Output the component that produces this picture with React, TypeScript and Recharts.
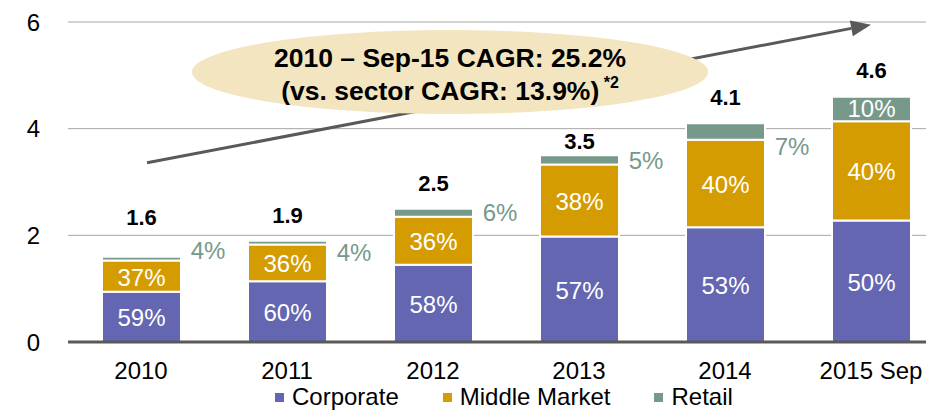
import { BarChart, Bar, XAxis, YAxis, CartesianGrid, LabelList, ReferenceLine } from "recharts";

const categories = ["2010", "2011", "2012", "2013", "2014", "2015 Sep"];
const corporate = [0.94, 1.14, 1.45, 1.98, 2.15, 2.28];
const middleMarket = [0.59, 0.69, 0.9, 1.35, 1.64, 1.86];
const retail = [0.07, 0.07, 0.15, 0.17, 0.31, 0.46];
const totals = ["1.6", "1.9", "2.5", "3.5", "4.1", "4.6"];
const corporatePct = ["59%", "60%", "58%", "57%", "53%", "50%"];
const middlePct = ["37%", "36%", "36%", "38%", "40%", "40%"];
const retailPct = ["4%", "4%", "6%", "5%", "7%", "10%"];
const yTicks = [0, 2, 4, 6];

// label nudges, in pixels
const totalGap = [40, 26, 26, 15, 27, 27];
const retailDy = [-8, 10, 0, 1, 15, 0];

const COLORS = { corporate: "#6466B2", middle: "#D49C00", retail: "#76998A" };
const FONT = "'Liberation Sans', Arial, sans-serif";

const data = categories.map((name, i) => ({
  name,
  corporate: corporate[i],
  middle: middleMarket[i],
  retail: retail[i],
}));

const box = (p: any) => {
  const vb = p.viewBox && p.viewBox.width !== undefined ? p.viewBox : p;
  return { x: Number(vb.x), y: Number(vb.y), w: Number(vb.width), h: Number(vb.height) };
};

const insideLabel = (labels: string[]) => (p: any) => {
  const { x, y, w, h } = box(p);
  return (
    <text x={x + w / 2} y={y + h / 2 + 1} fill="#fff" fontSize={24} textAnchor="middle" dominantBaseline="central">
      {labels[p.index]}
    </text>
  );
};

const retailLabel = (p: any) => {
  const { x, y, w, h } = box(p);
  const i = p.index;
  const last = i === categories.length - 1;
  return (
    <g>
      {last ? (
        <text x={x + w / 2} y={y + h / 2} fill="#fff" fontSize={24} textAnchor="middle" dominantBaseline="central">
          {retailPct[i]}
        </text>
      ) : (
        <text x={x + w + 27} y={y + h / 2 + retailDy[i]} fill={COLORS.retail} fontSize={24} textAnchor="middle" dominantBaseline="central">
          {retailPct[i]}
        </text>
      )}
      <text x={x + w / 2} y={y - totalGap[i] + 1} fill="#000" fontSize={22} fontWeight="bold" textAnchor="middle" dominantBaseline="central">
        {totals[i]}
      </text>
    </g>
  );
};

const Arrow = (p: any) => {
  const { x1, y1, x2, y2 } = p;
  const ang = Math.atan2(y2 - y1, x2 - x1);
  const len = 20;
  const half = 8;
  const bx = x2 - len * Math.cos(ang);
  const by = y2 - len * Math.sin(ang);
  const px = -Math.sin(ang) * half;
  const py = Math.cos(ang) * half;
  return (
    <g>
      <line x1={x1 + 6} y1={y1} x2={bx} y2={by} stroke="#595959" strokeWidth={3} />
      <polygon points={`${x2},${y2} ${bx + px},${by + py} ${bx - px},${by - py}`} fill="#595959" />
    </g>
  );
};

const legendItems = [
  { label: "Corporate", color: COLORS.corporate },
  { label: "Middle Market", color: COLORS.middle },
  { label: "Retail", color: COLORS.retail },
];

export default function App() {
  return (
    <div style={{ position: "absolute", left: 0, top: 0, width: 926, height: 411, overflow: "hidden", background: "#fff", fontFamily: FONT }}>
      <BarChart width={950} height={411} data={data} margin={{ top: 22, right: 6, bottom: 0, left: 0 }} barSize={79}>
        <CartesianGrid vertical={false} stroke="#a6a6a6" />
        <XAxis
          dataKey="name"
          height={69}
          axisLine={{ stroke: "#595959", strokeWidth: 3 }}
          tickLine={false}
          tickSize={0}
          tickMargin={20}
          tick={{ fill: "#000", fontSize: 24 }}
        />
        <YAxis
          width={68}
          domain={[0, 6]}
          ticks={yTicks}
          axisLine={false}
          tickLine={false}
          tickSize={0}
          tickMargin={28}
          tick={{ fill: "#000", fontSize: 24 }}
        />
        <ReferenceLine
          segment={[
            { x: "2010", y: 3.36 },
            { x: "2015 Sep", y: 5.95 },
          ]}
          ifOverflow="visible"
          shape={Arrow}
        />
        <Bar dataKey="corporate" stackId="a" fill={COLORS.corporate} stroke="#fff" strokeWidth={2} isAnimationActive={false}>
          <LabelList dataKey="corporate" content={insideLabel(corporatePct)} />
        </Bar>
        <Bar dataKey="middle" stackId="a" fill={COLORS.middle} stroke="#fff" strokeWidth={2} isAnimationActive={false}>
          <LabelList dataKey="middle" content={insideLabel(middlePct)} />
        </Bar>
        <Bar dataKey="retail" stackId="a" fill={COLORS.retail} stroke="#fff" strokeWidth={2} isAnimationActive={false}>
          <LabelList dataKey="retail" content={retailLabel} />
        </Bar>
      </BarChart>

      {/* CAGR callout */}
      <svg width={926} height={130} style={{ position: "absolute", left: 0, top: 0, pointerEvents: "none" }}>
        <ellipse cx={450} cy={72} rx={258} ry={42} fill="#F3E5BF" />
        <text x={450} y={58} fontSize={26.5} fontWeight="bold" textAnchor="middle" dominantBaseline="central" fill="#000">
          2010 – Sep-15 CAGR: 25.2%
        </text>
        <text x={450} y={91} fontSize={26.5} fontWeight="bold" textAnchor="middle" dominantBaseline="central" fill="#000">
          (vs. sector CAGR: 13.9%)
          <tspan fontSize={16} dy={-9}> *2</tspan>
        </text>
      </svg>

      <div style={{ position: "absolute", left: 275, top: 385, display: "flex", alignItems: "center", fontSize: 24, lineHeight: "24px" }}>
        {legendItems.map((it) => (
          <div key={it.label} style={{ display: "flex", alignItems: "center", marginRight: 44 }}>
            <span style={{ width: 9, height: 9, background: it.color, marginRight: 8, display: "inline-block" }} />
            <span>{it.label}</span>
          </div>
        ))}
      </div>
    </div>
  );
}
